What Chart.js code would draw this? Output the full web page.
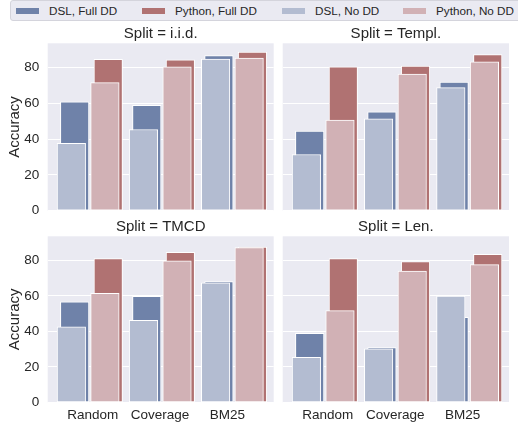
<!DOCTYPE html>
<html>
<head>
<meta charset="utf-8">
<script src="https://cdn.jsdelivr.net/npm/chart.js@4.4.1/dist/chart.umd.min.js"></script>
<style>
  html, body { margin: 0; padding: 0; background: #fff; }
  body { width: 518px; height: 428px; position: relative; overflow: hidden;
         font-family: 'Liberation Sans', Arial, sans-serif; color: #262626; }
  canvas { position: absolute; }
  #legend { position: absolute; left: 10px; top: 0; width: 540px; height: 19px;
            background: #eaeaf2; border: 1px solid #d4d4dc; border-radius: 3px; }
  .item { position: absolute; top: 0; height: 19px; line-height: 19px; font-size: 11.7px; white-space: nowrap; }
  .swatch { position: absolute; top: 6.5px; width: 23px; height: 6px; }
</style>
</head>
<body>
<div id="legend"></div>
<script>
const categories = ['Random', 'Coverage', 'BM25'];
const splits = ['i.i.d.', 'Templ.', 'TMCD', 'Len.'];
const seriesNames = ['DSL, Full DD', 'Python, Full DD', 'DSL, No DD', 'Python, No DD'];

// one row per split (i.i.d., Templ., TMCD, Len.), one value per category
const dslFullDD    = [[60.9, 58.9, 86.7], [44.5, 55.3, 71.9], [56.6, 59.7, 68.0], [38.9, 30.8, 47.9]];
const pythonFullDD = [[84.6, 84.3, 88.7], [80.5, 80.9, 87.3], [81.1, 84.5, 87.5], [81.1, 79.3, 83.4]];
const dslNoDD      = [[37.6, 45.4, 84.8], [31.4, 51.4, 68.8], [42.5, 46.2, 67.3], [25.4, 30.1, 59.9]];
const pythonNoDD   = [[71.6, 80.5, 85.4], [50.6, 76.4, 83.3], [61.4, 79.7, 87.2], [51.7, 74.0, 77.6]];
const yTicks = [0, 20, 40, 60, 80];

const seriesData = [dslFullDD, pythonFullDD, dslNoDD, pythonNoDD];
const colors = ['#6f82a9', '#b07272', '#b3bcd1', '#d1b1b5'];

// bar placement in x-axis units (ticks sit at 0, 1, 2)
const groupCenters = [-0.018, 1.052, 2.122];
const hueOffset = [-0.249, 0.249, -0.298, 0.200];

const FONT = 'Liberation Sans, Arial, sans-serif';
const TEXT = '#262626';

// legend built from the same names/colours
const legend = document.getElementById('legend');
const legendX = [5, 131, 271, 392];
seriesNames.forEach((name, s) => {
  const it = document.createElement('div');
  it.className = 'item';
  it.style.left = legendX[s] + 'px';
  it.innerHTML = '<span class="swatch" style="background:' + colors[s] + '"></span>'
    + '<span style="position:absolute;left:33px">' + name + '</span>';
  legend.appendChild(it);
});

const plotBg = {
  id: 'plotBg',
  beforeDraw(chart) {
    const { ctx, chartArea: a } = chart;
    ctx.save();
    ctx.fillStyle = '#eaeaf2';
    ctx.fillRect(a.left, a.top, a.width, a.height);
    ctx.restore();
  }
};

const panels = [
  { left: 0,   top: 21,  w: 276, h: 207, pad: { left: 0,   right: 2.3, top: 0, bottom: 17.3 }, yLabels: true,  xLabels: false },
  { left: 282, top: 21,  w: 231, h: 207, pad: { left: 0.7, right: 4,   top: 0, bottom: 17.3 }, yLabels: false, xLabels: false },
  { left: 0,   top: 214, w: 276, h: 214, pad: { left: 0,   right: 2.3, top: 0, bottom: 0 },    yLabels: true,  xLabels: true },
  { left: 282, top: 214, w: 231, h: 214, pad: { left: 0.7, right: 4,   top: 0, bottom: 0 },    yLabels: false, xLabels: true }
];

panels.forEach((p, k) => {
  const cv = document.createElement('canvas');
  cv.width = p.w; cv.height = p.h;
  cv.style.left = p.left + 'px'; cv.style.top = p.top + 'px';
  document.body.appendChild(cv);

  const datasets = seriesNames.map((name, s) => ({
    label: name,
    data: categories.map((c, i) => ({ x: groupCenters[i] + hueOffset[s], y: seriesData[s][k][i] })),
    backgroundColor: colors[s],
    borderColor: '#ffffff',
    borderWidth: 1,
    borderSkipped: false,
    grouped: false,
    barThickness: 28.5,
    order: s < 2 ? 1 : 0   // No DD bars drawn in front
  }));

  new Chart(cv.getContext('2d'), {
    type: 'bar',
    data: { datasets },
    plugins: [plotBg],
    options: {
      responsive: false,
      animation: false,
      layout: { padding: p.pad },
      plugins: {
        legend: { display: false },
        tooltip: { enabled: false },
        title: {
          display: true, text: 'Split = ' + splits[k], fullSize: false,
          color: TEXT, font: { family: FONT, size: 15, weight: 'normal' },
          padding: { top: 4.3, bottom: 0 }
        }
      },
      scales: {
        x: {
          type: 'linear', min: -0.667, max: 2.686, offset: false,
          display: p.xLabels,
          grid: { display: false, drawTicks: false, offset: false },
          border: { display: false },
          afterBuildTicks: s => { s.ticks = categories.map((c, i) => ({ value: i })); },
          afterFit: s => { s.height = p.xLabels ? 25.7 : 0; },
          ticks: {
            autoSkip: false, maxRotation: 0, padding: 5, color: TEXT,
            font: { family: FONT, size: 13.5 },
            callback: (v, i) => categories[i]
          }
        },
        y: {
          min: 0, max: 93.6,
          grid: { color: '#ffffff', lineWidth: 1, drawTicks: false },
          border: { display: false },
          afterBuildTicks: s => { s.ticks = yTicks.map(v => ({ value: v })); },
          afterFit: s => { s.width = p.yLabels ? 47.7 : 0; },
          ticks: { display: p.yLabels, padding: 8.4, color: TEXT, font: { family: FONT, size: 13.5 } },
          title: {
            display: p.yLabels, text: 'Accuracy', color: TEXT,
            font: { family: FONT, size: 15 }, padding: { top: 5.5, bottom: 0 }
          }
        }
      }
    }
  });
});
</script>
</body>
</html>
